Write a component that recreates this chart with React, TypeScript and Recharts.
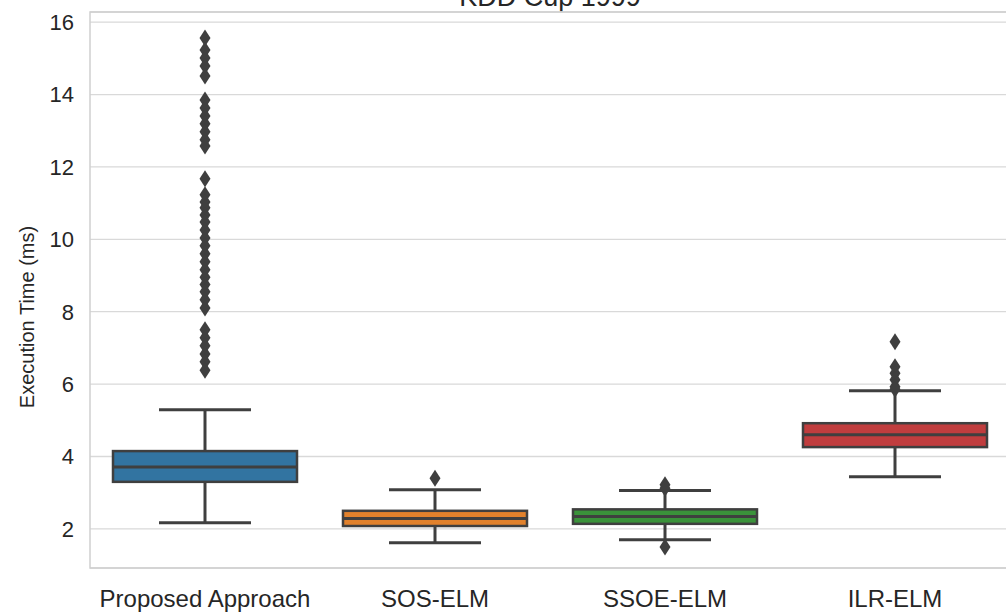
import {
  Bar,
  CartesianGrid,
  ComposedChart,
  ReferenceArea,
  Scatter,
  XAxis,
  YAxis,
} from "recharts";

const categories = ["Proposed Approach", "SOS-ELM", "SSOE-ELM", "ILR-ELM"];
const q1 = [3.3, 2.08, 2.14, 4.26];
const medians = [3.71, 2.29, 2.34, 4.6];
const q3 = [4.15, 2.5, 2.54, 4.92];
const whiskerLow = [2.17, 1.62, 1.7, 3.44];
const whiskerHigh = [5.29, 3.08, 3.06, 5.82];
const outliers = [
  [
    15.56, 15.23, 15.01, 14.79, 14.51, 13.85, 13.63, 13.41, 13.19, 12.97, 12.75,
    12.58, 11.67, 11.23, 11.03, 10.87, 10.67, 10.48, 10.26, 10.04, 9.82, 9.6,
    9.38, 9.16, 8.95, 8.75, 8.55, 8.33, 8.1, 7.5, 7.28, 7.06, 6.83, 6.62, 6.38,
  ],
  [3.4],
  [3.22, 3.12, 1.5],
  [7.17, 6.48, 6.3, 6.12, 5.93, 5.86],
];
const colors = ["#3274A1", "#E1812C", "#3A923A", "#C03D3E"];
const yTicks = [2, 4, 6, 8, 10, 12, 14, 16];

const EDGE = "#3f3f3f";
const FONT = '"Liberation Sans", Arial, sans-serif';

const rows = categories.map((name, i) => ({
  name,
  q1: q1[i],
  median: medians[i],
  q3: q3[i],
  lo: whiskerLow[i],
  hi: whiskerHigh[i],
}));

const outlierPoints = categories.flatMap((name, i) =>
  outliers[i].map((value) => ({ name, value }))
);

// box + whiskers, drawn from the ranged bar geometry (q1..q3)
function BoxShape(props: any) {
  const { x, y, width, height, payload, index } = props;
  const ppu = height / (payload.q3 - payload.q1);
  const cx = x + width / 2;
  const medY = y + (payload.q3 - payload.median) * ppu;
  const hiY = y - (payload.hi - payload.q3) * ppu;
  const loY = y + height + (payload.q1 - payload.lo) * ppu;
  const cap = width / 4;
  return (
    <g>
      <line x1={cx} x2={cx} y1={y} y2={hiY} stroke={EDGE} strokeWidth={3} />
      <line x1={cx} x2={cx} y1={y + height} y2={loY} stroke={EDGE} strokeWidth={3} />
      <line x1={cx - cap} x2={cx + cap} y1={hiY} y2={hiY} stroke={EDGE} strokeWidth={3} />
      <line x1={cx - cap} x2={cx + cap} y1={loY} y2={loY} stroke={EDGE} strokeWidth={3} />
      <rect
        x={x}
        y={y}
        width={width}
        height={height}
        fill={colors[index]}
        stroke={EDGE}
        strokeWidth={2.5}
      />
      <line x1={x} x2={x + width} y1={medY} y2={medY} stroke={EDGE} strokeWidth={3} />
    </g>
  );
}

function Diamond(props: any) {
  const { cx, cy } = props;
  if (cx == null || cy == null) return null;
  const w = 5.5;
  const h = 8.5;
  return (
    <polygon
      points={`${cx},${cy - h} ${cx + w},${cy} ${cx},${cy + h} ${cx - w},${cy}`}
      fill={EDGE}
    />
  );
}

function YLabel(props: any) {
  const vb = props.viewBox;
  const cx = vb.x + 27;
  const cy = vb.y + vb.height / 2 + 27;
  return (
    <text
      x={cx}
      y={cy}
      transform={`rotate(-90 ${cx} ${cy})`}
      textAnchor="middle"
      dominantBaseline="central"
      fontSize={20}
      fill="#262626"
      fontFamily={FONT}
    >
      Execution Time (ms)
    </text>
  );
}

export default function App() {
  return (
    <div
      style={{
        position: "fixed",
        left: 0,
        top: 0,
        width: 1006,
        height: 612,
        overflow: "hidden",
        background: "#fff",
        fontFamily: FONT,
      }}
    >
      <div
        style={{
          position: "absolute",
          left: 0,
          top: -16,
          width: 1100,
          textAlign: "center",
          fontSize: 27,
          lineHeight: "27px",
          color: "#262626",
        }}
      >
        KDD Cup 1999
      </div>
      <ComposedChart
        width={1020}
        height={612}
        data={rows}
        margin={{ top: 12, right: 10, left: 0, bottom: 0 }}
        barCategoryGap="10%"
      >
        <CartesianGrid vertical={false} stroke="#d9d9d9" strokeWidth={1.3} />
        <ReferenceArea
          y1={0.92}
          y2={16.28}
          fill="none"
          stroke="#cfcfcf"
          strokeWidth={1.5}
          fillOpacity={0}
          ifOverflow="visible"
        />
        <XAxis
          dataKey="name"
          type="category"
          allowDuplicatedCategory={false}
          height={44}
          tickLine={false}
          axisLine={false}
          tickSize={6}
          tickMargin={16}
          tick={{ fontSize: 24, fill: "#262626", fontFamily: FONT }}
          interval={0}
        />
        <YAxis
          type="number"
          domain={[0.92, 16.28]}
          allowDataOverflow
          ticks={yTicks}
          width={90}
          tickLine={false}
          axisLine={false}
          tickSize={6}
          tickMargin={10}
          tick={{ fontSize: 22, fill: "#262626", fontFamily: FONT }}
          label={{ content: YLabel }}
        />
        <Bar
          dataKey={(d: any) => [d.q1, d.q3]}
          shape={BoxShape}
          isAnimationActive={false}
        />
        <Scatter
          data={outlierPoints}
          dataKey="value"
          shape={Diamond}
          isAnimationActive={false}
        />
      </ComposedChart>
    </div>
  );
}
